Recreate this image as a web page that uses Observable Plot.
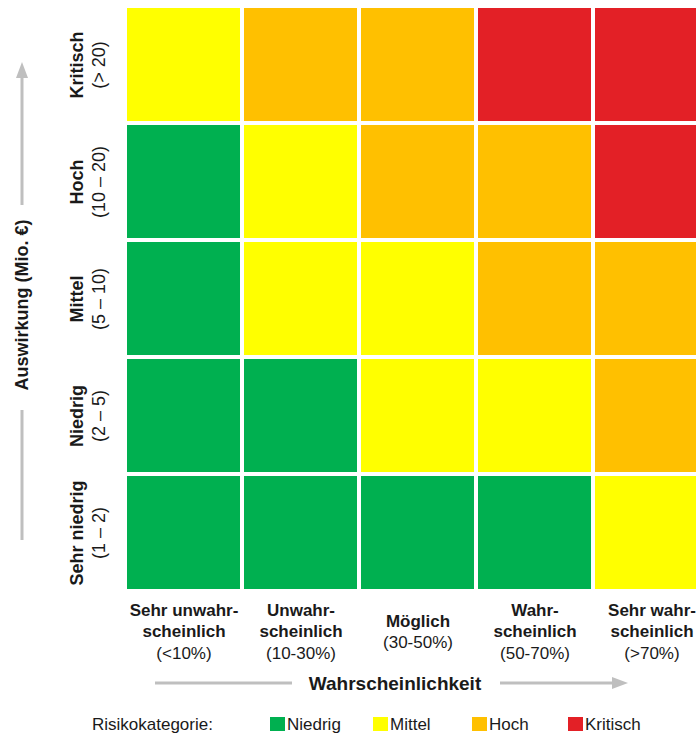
<!DOCTYPE html>
<html>
<head>
<meta charset="utf-8">
<script src="https://cdn.jsdelivr.net/npm/d3@7"></script>
<script src="https://cdn.jsdelivr.net/npm/@observablehq/plot@0.6"></script>
<style>
  html, body { margin: 0; padding: 0; background: #fff; overflow: hidden; width: 696px; }
  body { font-family: "Liberation Sans", Arial, sans-serif; color: #1a1a1a; }
  #chart { width: 696px; overflow: hidden; }
  #chart svg { display: block; max-width: none !important; width: 711px !important; height: 700px !important; }
  #legend { position: relative; height: 38px; font-size: 17px; }
  #legend span.item { position: absolute; top: 15px; white-space: nowrap; }
  #legend i { display: inline-block; width: 15px; height: 14px; vertical-align: -1px; margin-right: 2px; }
</style>
</head>
<body>
<div id="chart"></div>
<div id="legend"></div>
<script>
// ---- Data ----
const likelihoods = ["Sehr unwahrscheinlich", "Unwahrscheinlich", "Möglich", "Wahrscheinlich", "Sehr wahrscheinlich"];
const likelihoodLabels = ["Sehr unwahr-\nscheinlich\n(<10%)", "Unwahr-\nscheinlich\n(10-30%)", "Möglich\n(30-50%)", "Wahr-\nscheinlich\n(50-70%)", "Sehr wahr-\nscheinlich\n(>70%)"];
const impacts = ["Kritisch", "Hoch", "Mittel", "Niedrig", "Sehr niedrig"]; // top to bottom
const impactLabels = ["Kritisch\n(> 20)", "Hoch\n(10 – 20)", "Mittel\n(5 – 10)", "Niedrig\n(2 – 5)", "Sehr niedrig\n(1 – 2)"];
const categories = ["Niedrig", "Mittel", "Hoch", "Kritisch"];
const categoryColors = ["#00B050", "#FFFF00", "#FFC000", "#E32026"];
// risk category per impact row (top to bottom) and likelihood column (left to right)
const riskKritisch    = ["Mittel", "Hoch", "Hoch", "Kritisch", "Kritisch"];
const riskHoch        = ["Niedrig", "Mittel", "Hoch", "Hoch", "Kritisch"];
const riskMittel      = ["Niedrig", "Mittel", "Mittel", "Hoch", "Hoch"];
const riskNiedrig     = ["Niedrig", "Niedrig", "Mittel", "Mittel", "Hoch"];
const riskSehrNiedrig = ["Niedrig", "Niedrig", "Niedrig", "Niedrig", "Mittel"];
const riskRows = [riskKritisch, riskHoch, riskMittel, riskNiedrig, riskSehrNiedrig];

const cells = [];
impacts.forEach((imp, i) => likelihoods.forEach((lik, j) => cells.push({impact: imp, likelihood: lik, risk: riskRows[i][j]})));
const xLab = likelihoods.map((k, i) => ({key: k, label: likelihoodLabels[i]}));
const yLab = impacts.map((k, i) => ({key: k, label: impactLabels[i]}));

const W = 711, H = 700, mL = 124, mR = 0, mT = 5, mB = 109;

const plot = Plot.plot({
  width: W, height: H,
  marginLeft: mL, marginRight: mR, marginTop: mT, marginBottom: mB,
  style: {fontFamily: '"Liberation Sans", Arial, sans-serif', color: "#1a1a1a", background: "white"},
  x: {type: "band", domain: likelihoods, padding: 0, axis: null},
  y: {type: "band", domain: impacts, padding: 0, axis: null},
  color: {domain: categories, range: categoryColors},
  marks: [
    Plot.cell(cells, {x: "likelihood", y: "impact", fill: "risk", inset: 2}),
    Plot.text(xLab, {x: "key", text: "label", frameAnchor: "bottom", lineAnchor: "middle", dy: 39,
      fontSize: 17, fontWeight: "bold", lineHeight: 1.27, fill: "#1a1a1a"}),
    Plot.text(yLab, {y: "key", text: "label", frameAnchor: "left", textAnchor: "middle", rotate: -90, dx: -38, lineAnchor: "middle",
      fontSize: 18, fontWeight: "bold", lineHeight: 1.22, fill: "#1a1a1a"})
  ]
});

document.getElementById("chart").appendChild(plot);
const svg = d3.select(plot);

// last line (range in parentheses) is regular weight
svg.selectAll("text").each(function() {
  const spans = this.querySelectorAll("tspan");
  if (spans.length > 1) {
    const last = spans[spans.length - 1];
    last.setAttribute("font-weight", "normal");
    last.style.fontWeight = "normal";
  }
});

// axis titles with gray arrows
const gray = "#BFBFBF";
const ann = svg.append("g");
const xMid = 395, xTitleY = 683;
ann.append("text").attr("x", xMid).attr("y", xTitleY).attr("text-anchor", "middle").attr("dy", "0.35em")
  .attr("font-size", 19).attr("font-weight", "bold").attr("fill", "#1a1a1a").text("Wahrscheinlichkeit");
ann.append("line").attr("x1", 155).attr("x2", 292).attr("y1", xTitleY).attr("y2", xTitleY).attr("stroke", gray).attr("stroke-width", 3);
ann.append("line").attr("x1", 500).attr("x2", 614).attr("y1", xTitleY).attr("y2", xTitleY).attr("stroke", gray).attr("stroke-width", 3);
ann.append("path").attr("d", `M628,${xTitleY} L612,${xTitleY - 6} L612,${xTitleY + 6} Z`).attr("fill", gray);

const yMid = 305, yTitleX = 22;
ann.append("text").attr("transform", `translate(${yTitleX},${yMid}) rotate(-90)`).attr("text-anchor", "middle").attr("dy", "0.35em")
  .attr("font-size", 18).attr("font-weight", "bold").attr("fill", "#1a1a1a").text("Auswirkung (Mio. €)");
ann.append("line").attr("x1", yTitleX).attr("x2", yTitleX).attr("y1", 410).attr("y2", 540).attr("stroke", gray).attr("stroke-width", 3);
ann.append("line").attr("x1", yTitleX).attr("x2", yTitleX).attr("y1", 205).attr("y2", 76).attr("stroke", gray).attr("stroke-width", 3);
ann.append("path").attr("d", `M${yTitleX},62 L${yTitleX - 6},78 L${yTitleX + 6},78 Z`).attr("fill", gray);

// legend
const legend = d3.select("#legend");
legend.append("span").attr("class", "item").style("left", "92px").text("Risikokategorie:");
const legendX = [270, 373, 472, 568];
categories.forEach((c, i) => {
  const s = legend.append("span").attr("class", "item").style("left", legendX[i] + "px");
  s.append("i").style("background", categoryColors[i]);
  s.append("span").text(c);
});
</script>
</body>
</html>
